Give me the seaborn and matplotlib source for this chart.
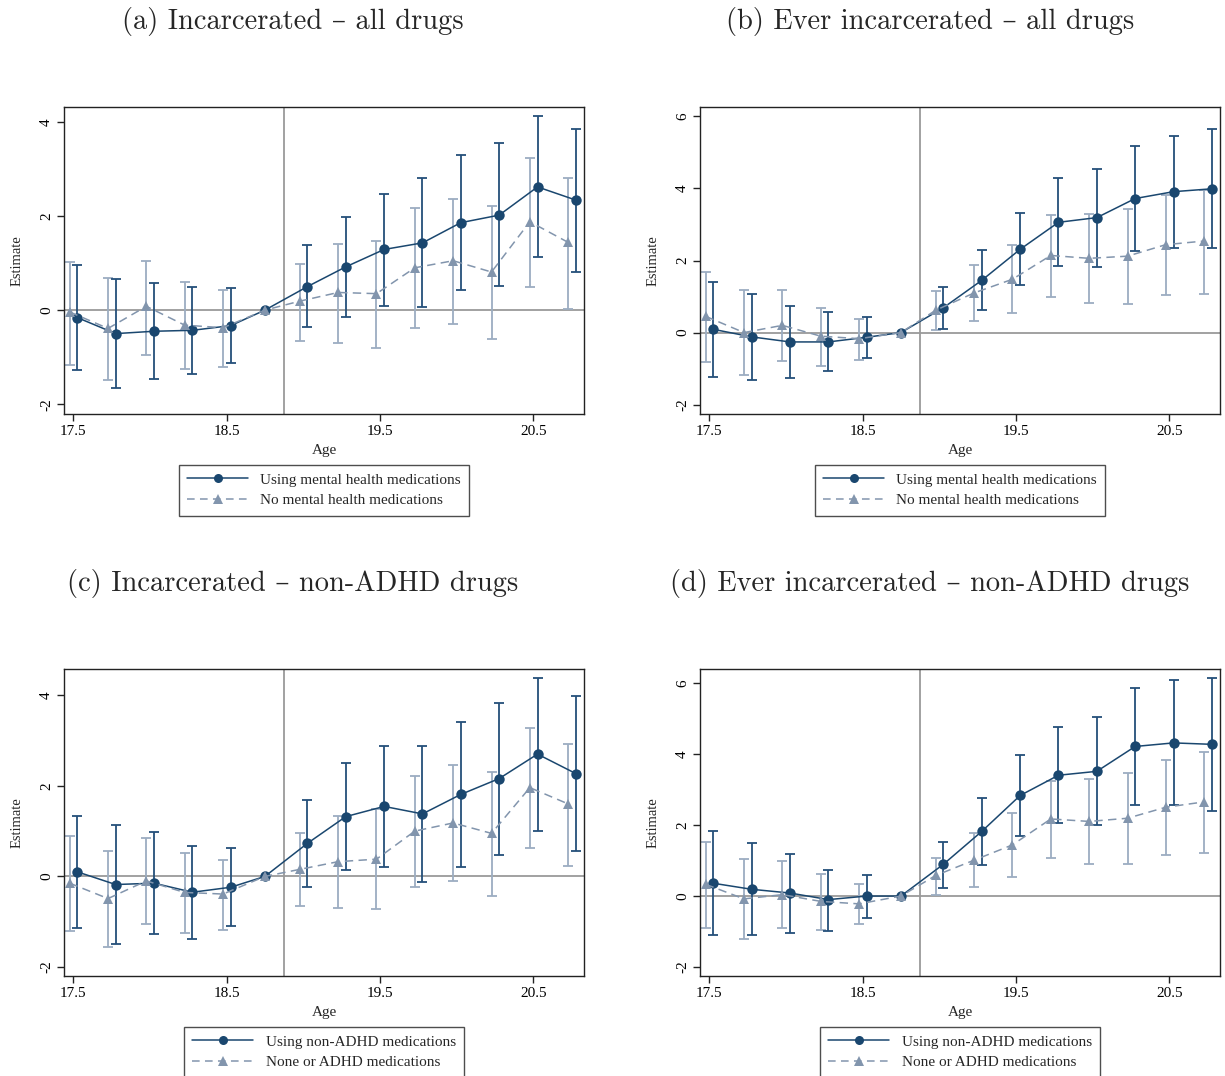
import numpy as np
import pandas as pd
import matplotlib
matplotlib.use("Agg")
import matplotlib.pyplot as plt
from matplotlib.lines import Line2D
import seaborn as sns

# Ages (quarterly), reference period 18.75 normalised to zero
ages = [17.5, 17.75, 18.0, 18.25, 18.5, 18.75, 19.0, 19.25, 19.5, 19.75, 20.0, 20.25, 20.5, 20.75]
ref_age = 18.75
cutoff_age = 18.875

# (a) Incarcerated - all drugs
a_use_est = [-0.16, -0.50, -0.45, -0.43, -0.33, 0.0, 0.50, 0.92, 1.29, 1.43, 1.86, 2.02, 2.62, 2.34]
a_use_lo = [-1.28, -1.66, -1.46, -1.36, -1.12, np.nan, -0.37, -0.14, 0.09, 0.07, 0.43, 0.51, 1.13, 0.81]
a_use_hi = [0.955, 0.67, 0.58, 0.50, 0.47, np.nan, 1.39, 1.99, 2.48, 2.80, 3.30, 3.55, 4.12, 3.86]
a_no_est = [-0.04, -0.39, 0.08, -0.32, -0.375, 0.0, 0.19, 0.375, 0.35, 0.90, 1.05, 0.81, 1.88, 1.44]
a_no_lo = [-1.16, -1.49, -0.95, -1.25, -1.21, np.nan, -0.65, -0.70, -0.81, -0.38, -0.30, -0.62, 0.49, 0.02]
a_no_hi = [1.03, 0.69, 1.05, 0.60, 0.42, np.nan, 0.99, 1.415, 1.48, 2.17, 2.37, 2.22, 3.24, 2.82]

# (b) Ever incarcerated - all drugs
b_use_est = [0.09, -0.12, -0.26, -0.26, -0.13, 0.0, 0.69, 1.45, 2.31, 3.06, 3.19, 3.72, 3.91, 3.99]
b_use_lo = [-1.22, -1.31, -1.27, -1.06, -0.71, np.nan, 0.11, 0.62, 1.31, 1.85, 1.83, 2.27, 2.35, 2.34]
b_use_hi = [1.41, 1.08, 0.74, 0.56, 0.42, np.nan, 1.27, 2.28, 3.31, 4.28, 4.54, 5.19, 5.46, 5.65]
b_no_est = [0.45, 0.0, 0.20, -0.10, -0.17, 0.0, 0.62, 1.10, 1.48, 2.14, 2.06, 2.12, 2.44, 2.54]
b_no_lo = [-0.82, -1.17, -0.78, -0.92, -0.77, np.nan, 0.07, 0.31, 0.54, 1.00, 0.81, 0.79, 1.03, 1.06]
b_no_hi = [1.69, 1.18, 1.18, 0.69, 0.38, np.nan, 1.15, 1.87, 2.42, 3.26, 3.28, 3.44, 3.81, 3.96]

# (c) Incarcerated - non-ADHD drugs
c_use_est = [0.10, -0.18, -0.15, -0.35, -0.24, 0.0, 0.73, 1.32, 1.545, 1.38, 1.81, 2.16, 2.70, 2.27]
c_use_lo = [-1.13, -1.50, -1.27, -1.38, -1.10, np.nan, -0.23, 0.13, 0.20, -0.13, 0.20, 0.47, 1.00, 0.56]
c_use_hi = [1.34, 1.13, 0.98, 0.68, 0.62, np.nan, 1.685, 2.51, 2.88, 2.88, 3.41, 3.84, 4.39, 3.98]
c_no_est = [-0.15, -0.49, -0.10, -0.355, -0.39, 0.0, 0.155, 0.325, 0.38, 1.00, 1.18, 0.95, 1.96, 1.60]
c_no_lo = [-1.21, -1.55, -1.06, -1.26, -1.19, np.nan, -0.66, -0.70, -0.71, -0.24, -0.10, -0.44, 0.62, 0.23]
c_no_hi = [0.89, 0.55, 0.85, 0.525, 0.37, np.nan, 0.95, 1.33, 1.48, 2.22, 2.46, 2.30, 3.27, 2.92]

# (d) Ever incarcerated - non-ADHD drugs
d_use_est = [0.36, 0.19, 0.085, -0.10, 0.0, 0.0, 0.895, 1.82, 2.83, 3.40, 3.51, 4.21, 4.31, 4.27]
d_use_lo = [-1.11, -1.11, -1.03, -0.97, -0.61, np.nan, 0.24, 0.885, 1.70, 2.05, 1.99, 2.57, 2.55, 2.40]
d_use_hi = [1.83, 1.50, 1.17, 0.74, 0.60, np.nan, 1.53, 2.77, 3.97, 4.76, 5.04, 5.85, 6.08, 6.14]
d_no_est = [0.33, -0.08, 0.04, -0.15, -0.22, 0.0, 0.58, 1.01, 1.44, 2.17, 2.10, 2.19, 2.50, 2.65]
d_no_lo = [-0.89, -1.22, -0.91, -0.95, -0.79, np.nan, 0.04, 0.26, 0.53, 1.06, 0.91, 0.90, 1.16, 1.22]
d_no_hi = [1.52, 1.03, 0.99, 0.62, 0.33, np.nan, 1.07, 1.78, 2.33, 3.25, 3.29, 3.46, 3.84, 4.05]

titles = ["(a) Incarcerated \u2013 all drugs", "(b) Ever incarcerated \u2013 all drugs",
          "(c) Incarcerated \u2013 non-ADHD drugs", "(d) Ever incarcerated \u2013 non-ADHD drugs"]
labels_all = ["Using mental health medications", "No mental health medications"]
labels_nonadhd = ["Using non-ADHD medications", "None or ADHD medications"]
xticks = [17.5, 18.5, 19.5, 20.5]

panels = [
    (titles[0], labels_all, a_use_est, a_use_lo, a_use_hi, a_no_est, a_no_lo, a_no_hi, [-2, 0, 2, 4], (-2.21, 4.32)),
    (titles[1], labels_all, b_use_est, b_use_lo, b_use_hi, b_no_est, b_no_lo, b_no_hi, [-2, 0, 2, 4, 6], (-2.26, 6.26)),
    (titles[2], labels_nonadhd, c_use_est, c_use_lo, c_use_hi, c_no_est, c_no_lo, c_no_hi, [-2, 0, 2, 4], (-2.2, 4.58)),
    (titles[3], labels_nonadhd, d_use_est, d_use_lo, d_use_hi, d_no_est, d_no_lo, d_no_hi, [-2, 0, 2, 4, 6], (-2.25, 6.39)),
]

sns.set_theme(style="ticks")
plt.rcParams["font.family"] = ["Liberation Serif", "DejaVu Serif"]
plt.rcParams["axes.linewidth"] = 1.0

navy = "#1a476f"
navy_bar = "#244f7a"
slate = "#8295ad"
slate_bar = "#9cadc2"
refgray = "#9a9a9a"

W, H = 1225, 1076
fig = plt.figure(figsize=(W / 100, H / 100), dpi=100)

# axes boxes in pixels: left, top, right, bottom
boxes = [(64, 107, 584, 414), (700, 107, 1220, 414), (64, 669, 584, 976), (700, 669, 1220, 976)]
title_pos = [(293, 21), (930, 21), (293, 583), (930, 583)]

for (title, labs, ue, ul, uh, ne, nl, nh, yt, ylim), box, tpos in zip(panels, boxes, title_pos):
    l, t, r, b = box
    ax = fig.add_axes([l / W, 1 - b / H, (r - l) / W, (b - t) / H])

    age_arr = np.array(ages)
    shift_u = np.where(age_arr == ref_age, 0.0, 0.027)
    shift_n = np.where(age_arr == ref_age, 0.0, -0.023)

    df = pd.concat([
        pd.DataFrame({"x": age_arr + shift_u, "est": ue, "lo": ul, "hi": uh, "grp": labs[0]}),
        pd.DataFrame({"x": age_arr + shift_n, "est": ne, "lo": nl, "hi": nh, "grp": labs[1]}),
    ], ignore_index=True)

    ax.axhline(0, color=refgray, lw=1.3, zorder=1)
    ax.axvline(cutoff_age, color=refgray, lw=1.3, zorder=1)

    # confidence intervals
    for grp, col, z in [(labs[1], slate_bar, 2), (labs[0], navy_bar, 3)]:
        sub = df[(df["grp"] == grp) & df["lo"].notna()]
        ax.errorbar(sub["x"], sub["est"], yerr=[sub["est"] - sub["lo"], sub["hi"] - sub["est"]],
                    fmt="none", ecolor=col, elinewidth=1.3, capsize=3.8, capthick=1.3, zorder=z)

    sns.lineplot(data=df[df["grp"] == labs[0]], x="x", y="est", color=navy, marker="o",
                 markersize=7.5, markeredgewidth=0, linewidth=1.1, ax=ax, zorder=4, legend=False)
    sns.lineplot(data=df[df["grp"] == labs[1]], x="x", y="est", color=slate, marker="^",
                 markersize=7.5, markeredgewidth=0, linewidth=1.1,
                 ax=ax, zorder=5, legend=False)
    ax.lines[-1].set_linestyle((0, (5.5, 3.5)))

    ax.set_xlim(17.44, 20.83)
    ax.set_ylim(*ylim)
    ax.set_xticks(xticks)
    ax.set_xticklabels([f"{v:.1f}" for v in xticks])
    ax.set_yticks(yt)
    ax.set_yticklabels([str(v) for v in yt], rotation=90, va="center")
    ax.tick_params(axis="both", direction="out", length=5, width=1.0, labelsize=11,
                   colors="#222222", labelcolor="black", pad=3)
    ax.set_xlabel("Age", fontsize=11, labelpad=4)
    ax.set_ylabel("Estimate", fontsize=10.5, labelpad=12)
    for s in ax.spines.values():
        s.set_visible(True)
        s.set_color("#222222")
        s.set_linewidth(1.0)

    handles = [
        Line2D([0], [0], color=navy, lw=1.1, marker="o", markersize=6.5, markeredgewidth=0),
        Line2D([0], [0], color=slate, lw=1.1, marker="^", markersize=6.5, markeredgewidth=0,
               linestyle=(0, (5, 3.5))),
    ]
    leg = ax.legend(handles, labs, loc="upper center", bbox_to_anchor=(0.5, -0.165),
                    frameon=True, fancybox=False, fontsize=11, handlelength=4.0,
                    handletextpad=0.8, borderpad=0.55, labelspacing=0.45, numpoints=1,
                    borderaxespad=0)
    leg.get_frame().set_edgecolor("#222222")
    leg.get_frame().set_linewidth(1.0)

    fig.text(tpos[0] / W, 1 - tpos[1] / H, title, ha="center", va="center", fontsize=20.5,
             family=["cmr10", "DejaVu Serif"])

fig.savefig("out.png", dpi=100, facecolor="white")
